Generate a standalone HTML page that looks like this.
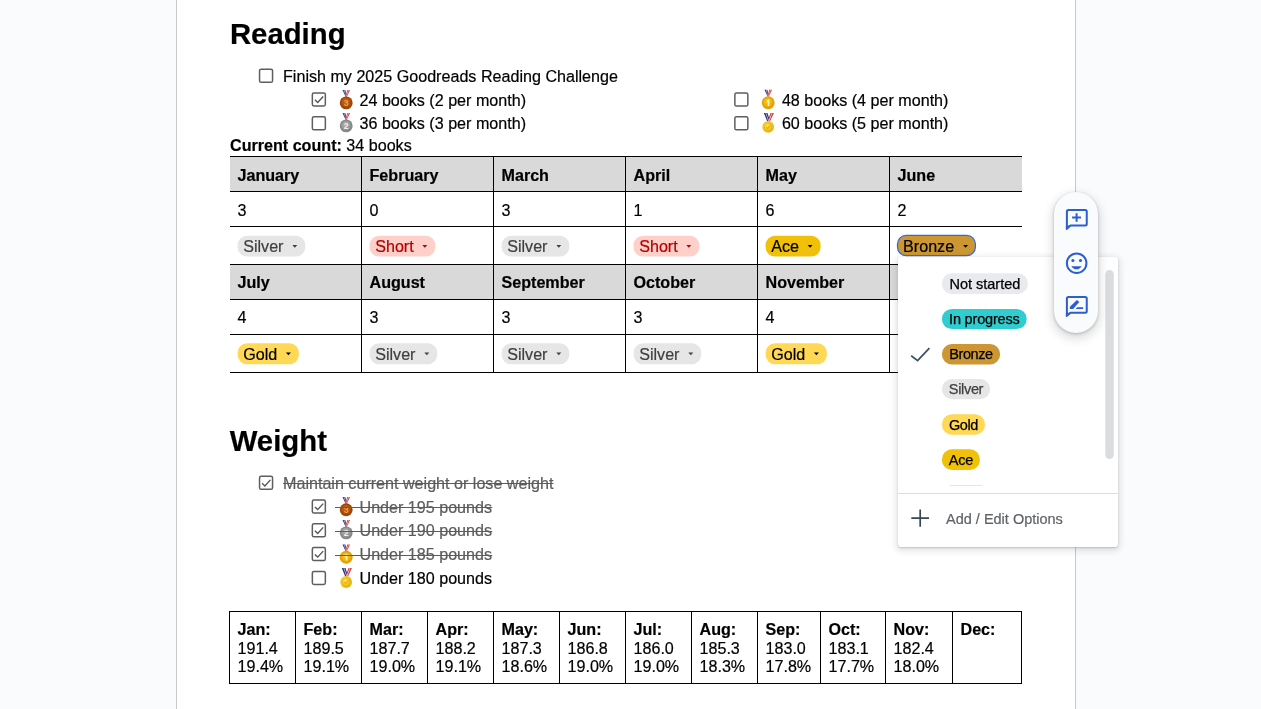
<!DOCTYPE html>
<html><head><meta charset="utf-8"><title>Goals</title>
<style>
html,body{margin:0;padding:0}
body{width:1261px;height:709px;overflow:hidden;background:#f9fbfd;font-family:"Liberation Sans",sans-serif;position:relative;color:#000}
#w{position:absolute;left:0;top:0;width:1261px;height:709px;will-change:transform}
#page{position:absolute;left:176px;top:-2px;width:898px;height:720px;background:#fff;border:1px solid #c8c8c8}
svg{position:absolute;left:0;top:0;overflow:visible}
.t{position:absolute;white-space:nowrap;-webkit-text-stroke:0.2px currentColor}
.b{font-weight:700}
.g{color:#5c5c5c}
#menu{position:absolute;left:898px;top:257px;width:220px;height:290px;background:#fff;border-radius:3px;box-shadow:0 2px 6px 2px rgba(60,64,67,.14),0 1px 2px rgba(60,64,67,.22);overflow:hidden}
#list{position:absolute;left:0;top:0;width:220px;height:229.3px;overflow:hidden}
.mc{position:absolute;height:20px;font-size:14.5px;line-height:20px;text-align:center;white-space:nowrap;-webkit-text-stroke:0.25px currentColor}
#pill{position:absolute;left:1054px;top:192px;width:44px;height:140.5px;border-radius:22px;background:#f9fbfd;box-shadow:0 4px 8px 3px rgba(60,64,67,.15),0 1px 3px rgba(60,64,67,.3)}
</style></head><body>
<div id="page"></div>
<div id="w">
<svg width="1261" height="709" viewBox="0 0 1261 709"><defs><radialGradient id="g1" cx=".45" cy=".4" r=".62"><stop offset="0" stop-color="#cc6c1e"/><stop offset="1" stop-color="#9c450a"/></radialGradient><radialGradient id="g2" cx=".45" cy=".4" r=".62"><stop offset="0" stop-color="#b9b9b9"/><stop offset="1" stop-color="#878787"/></radialGradient><radialGradient id="g3" cx=".45" cy=".4" r=".62"><stop offset="0" stop-color="#ffd030"/><stop offset="1" stop-color="#e3a000"/></radialGradient><radialGradient id="g4" cx=".42" cy=".4" r=".65"><stop offset="0" stop-color="#ffe14d"/><stop offset="1" stop-color="#e8b008"/></radialGradient><radialGradient id="g5" cx=".45" cy=".4" r=".62"><stop offset="0" stop-color="#cc6c1e"/><stop offset="1" stop-color="#9c450a"/></radialGradient><radialGradient id="g6" cx=".45" cy=".4" r=".62"><stop offset="0" stop-color="#b9b9b9"/><stop offset="1" stop-color="#878787"/></radialGradient><radialGradient id="g7" cx=".45" cy=".4" r=".62"><stop offset="0" stop-color="#ffd030"/><stop offset="1" stop-color="#e3a000"/></radialGradient><radialGradient id="g8" cx=".42" cy=".4" r=".65"><stop offset="0" stop-color="#ffe14d"/><stop offset="1" stop-color="#e8b008"/></radialGradient></defs>
<g transform="translate(258.8 68.5)"><rect x="0.75" y="0.75" width="13" height="13" rx="1.6" fill="#fff" stroke="#5e5e5e" stroke-width="1.5"/></g>
<g transform="translate(311.6 92.2)"><rect x="0.75" y="0.75" width="13" height="13" rx="1.6" fill="#fff" stroke="#5e5e5e" stroke-width="1.5"/><path d="M3.3 7.6 L6.1 10.3 L11.6 4.3" fill="none" stroke="#555" stroke-width="1.4"/></g>
<g transform="translate(339.3 90)"><path d="M3.2 0 L6.0 0 L7.7 6.4 L6.3 6.8 Z" fill="#27348b"/><path d="M10.7 0 L8.0 0 L6.2 6.2 L7.6 6.8 Z" fill="#d6373d"/><path d="M4.4 0 L5.0 0 L7.0 6.4 L6.7 6.5 Z" fill="#fff" opacity=".8"/><path d="M9.5 0 L8.9 0 L7.0 6.0 L7.4 6.3 Z" fill="#fff" opacity=".8"/><circle cx="6.9" cy="12.9" r="6.45" fill="#9c450a"/><circle cx="6.9" cy="12.9" r="5.1" fill="url(#g1)"/><text x="6.9" y="16.05" font-family="Liberation Sans" font-weight="700" font-size="9" text-anchor="middle" fill="#f59a3a">3</text></g>
<g transform="translate(311.6 116.1)"><rect x="0.75" y="0.75" width="13" height="13" rx="1.6" fill="#fff" stroke="#5e5e5e" stroke-width="1.5"/></g>
<g transform="translate(339.3 113)"><path d="M3.2 0 L6.0 0 L7.7 6.4 L6.3 6.8 Z" fill="#27348b"/><path d="M10.7 0 L8.0 0 L6.2 6.2 L7.6 6.8 Z" fill="#d6373d"/><path d="M4.4 0 L5.0 0 L7.0 6.4 L6.7 6.5 Z" fill="#fff" opacity=".8"/><path d="M9.5 0 L8.9 0 L7.0 6.0 L7.4 6.3 Z" fill="#fff" opacity=".8"/><circle cx="6.9" cy="12.9" r="6.45" fill="#878787"/><circle cx="6.9" cy="12.9" r="5.1" fill="url(#g2)"/><text x="6.9" y="16.05" font-family="Liberation Sans" font-weight="700" font-size="9" text-anchor="middle" fill="#ececec">2</text></g>
<g transform="translate(734.1 92.3)"><rect x="0.75" y="0.75" width="13" height="13" rx="1.6" fill="#fff" stroke="#5e5e5e" stroke-width="1.5"/></g>
<g transform="translate(761.3 89.8)"><path d="M3.2 0 L6.0 0 L7.7 6.4 L6.3 6.8 Z" fill="#27348b"/><path d="M10.7 0 L8.0 0 L6.2 6.2 L7.6 6.8 Z" fill="#d6373d"/><path d="M4.4 0 L5.0 0 L7.0 6.4 L6.7 6.5 Z" fill="#fff" opacity=".8"/><path d="M9.5 0 L8.9 0 L7.0 6.0 L7.4 6.3 Z" fill="#fff" opacity=".8"/><circle cx="6.9" cy="12.9" r="6.45" fill="#e3a000"/><circle cx="6.9" cy="12.9" r="5.1" fill="url(#g3)"/><path d="M5.5 10.9 L7.1 9.7 H8.1 V16.1 H6.5 V11.6 L5.5 12.3 Z" fill="#fff2a8"/></g>
<g transform="translate(734.1 116.1)"><rect x="0.75" y="0.75" width="13" height="13" rx="1.6" fill="#fff" stroke="#5e5e5e" stroke-width="1.5"/></g>
<g transform="translate(761.3 113)"><path d="M2.5 0 L6.2 0 L8.7 7.8 L6.0 8.6 Z" fill="#27348b"/><path d="M12.6 0 L9.2 0 L6.6 7.2 L8.6 8.6 Z" fill="#d6373d"/><path d="M4.2 0 L4.9 0 L7.6 8 L7.0 8.2 Z" fill="#fff" opacity=".8"/><path d="M11 0 L10.3 0 L7.6 7.4 L8.2 7.8 Z" fill="#fff" opacity=".8"/><circle cx="6.9" cy="13.9" r="5.9" fill="url(#g4)"/><circle cx="6.9" cy="13.9" r="3.9" fill="none" stroke="#d09a00" stroke-width=".7" opacity=".5"/><path d="M4.9 14 L6.4 15.4 L9.2 12.3" stroke="#d09a00" stroke-width="1.1" fill="none" opacity=".6"/></g>
<rect x="230" y="157" width="792" height="34" fill="#d9d9d9"/>
<rect x="230" y="265" width="792" height="34" fill="#d9d9d9"/>
<rect x="230" y="156" width="792" height="1" fill="#000"/>
<rect x="230" y="191" width="792" height="1" fill="#000"/>
<rect x="230" y="226" width="792" height="1" fill="#000"/>
<rect x="230" y="264" width="792" height="1" fill="#000"/>
<rect x="230" y="299" width="792" height="1" fill="#000"/>
<rect x="230" y="334" width="792" height="1" fill="#000"/>
<rect x="230" y="372" width="792" height="1" fill="#000"/>
<rect x="361" y="156" width="1" height="217" fill="#000"/>
<rect x="493" y="156" width="1" height="217" fill="#000"/>
<rect x="625" y="156" width="1" height="217" fill="#000"/>
<rect x="757" y="156" width="1" height="217" fill="#000"/>
<rect x="889" y="156" width="1" height="217" fill="#000"/>
<rect x="237.6" y="235.7" width="67.7" height="20.9" rx="9.4" fill="#e6e6e6"/>
<path d="M292.30 244.89999999999998 h5 l-2.5 2.8 Z" fill="#404040"/>
<rect x="369.6" y="235.7" width="65.7" height="20.9" rx="9.4" fill="#ffcfc9"/>
<path d="M422.30 244.89999999999998 h5 l-2.5 2.8 Z" fill="#b10202"/>
<rect x="501.6" y="235.7" width="67.7" height="20.9" rx="9.4" fill="#e6e6e6"/>
<path d="M556.30 244.89999999999998 h5 l-2.5 2.8 Z" fill="#404040"/>
<rect x="633.6" y="235.7" width="65.7" height="20.9" rx="9.4" fill="#ffcfc9"/>
<path d="M686.30 244.89999999999998 h5 l-2.5 2.8 Z" fill="#b10202"/>
<rect x="765.6" y="235.7" width="55" height="20.9" rx="9.4" fill="#f0c108"/>
<path d="M807.60 244.89999999999998 h5 l-2.5 2.8 Z" fill="#000"/>
<rect x="897.5" y="235.4" width="77.9" height="20.2" rx="8.6" fill="#cc9632" stroke="#2a6de2" stroke-width="1.25"/>
<path d="M963.10 244.9 h5 l-2.5 2.8 Z" fill="#000"/>
<rect x="237.6" y="343.3" width="61.3" height="20.9" rx="9.4" fill="#ffd955"/>
<path d="M285.90 352.5 h5 l-2.5 2.8 Z" fill="#000"/>
<rect x="369.6" y="343.3" width="67.7" height="20.9" rx="9.4" fill="#e6e6e6"/>
<path d="M424.30 352.5 h5 l-2.5 2.8 Z" fill="#404040"/>
<rect x="501.6" y="343.3" width="67.7" height="20.9" rx="9.4" fill="#e6e6e6"/>
<path d="M556.30 352.5 h5 l-2.5 2.8 Z" fill="#404040"/>
<rect x="633.6" y="343.3" width="67.7" height="20.9" rx="9.4" fill="#e6e6e6"/>
<path d="M688.30 352.5 h5 l-2.5 2.8 Z" fill="#404040"/>
<rect x="765.6" y="343.3" width="61.3" height="20.9" rx="9.4" fill="#ffd955"/>
<path d="M813.90 352.5 h5 l-2.5 2.8 Z" fill="#000"/>
<g transform="translate(258.8 475.6)"><rect x="0.75" y="0.75" width="13" height="13" rx="1.6" fill="#fff" stroke="#5e5e5e" stroke-width="1.5"/><path d="M3.3 7.6 L6.1 10.3 L11.6 4.3" fill="none" stroke="#555" stroke-width="1.4"/></g>
<g transform="translate(311.6 499.3)"><rect x="0.75" y="0.75" width="13" height="13" rx="1.6" fill="#fff" stroke="#5e5e5e" stroke-width="1.5"/><path d="M3.3 7.6 L6.1 10.3 L11.6 4.3" fill="none" stroke="#555" stroke-width="1.4"/></g>
<g transform="translate(339.3 496.9)"><path d="M3.2 0 L6.0 0 L7.7 6.4 L6.3 6.8 Z" fill="#27348b"/><path d="M10.7 0 L8.0 0 L6.2 6.2 L7.6 6.8 Z" fill="#d6373d"/><path d="M4.4 0 L5.0 0 L7.0 6.4 L6.7 6.5 Z" fill="#fff" opacity=".8"/><path d="M9.5 0 L8.9 0 L7.0 6.0 L7.4 6.3 Z" fill="#fff" opacity=".8"/><circle cx="6.9" cy="12.9" r="6.45" fill="#9c450a"/><circle cx="6.9" cy="12.9" r="5.1" fill="url(#g5)"/><text x="6.9" y="16.05" font-family="Liberation Sans" font-weight="700" font-size="9" text-anchor="middle" fill="#f59a3a">3</text></g>
<g transform="translate(311.6 523.1)"><rect x="0.75" y="0.75" width="13" height="13" rx="1.6" fill="#fff" stroke="#5e5e5e" stroke-width="1.5"/><path d="M3.3 7.6 L6.1 10.3 L11.6 4.3" fill="none" stroke="#555" stroke-width="1.4"/></g>
<g transform="translate(339.3 520.0)"><path d="M3.2 0 L6.0 0 L7.7 6.4 L6.3 6.8 Z" fill="#27348b"/><path d="M10.7 0 L8.0 0 L6.2 6.2 L7.6 6.8 Z" fill="#d6373d"/><path d="M4.4 0 L5.0 0 L7.0 6.4 L6.7 6.5 Z" fill="#fff" opacity=".8"/><path d="M9.5 0 L8.9 0 L7.0 6.0 L7.4 6.3 Z" fill="#fff" opacity=".8"/><circle cx="6.9" cy="12.9" r="6.45" fill="#878787"/><circle cx="6.9" cy="12.9" r="5.1" fill="url(#g6)"/><text x="6.9" y="16.05" font-family="Liberation Sans" font-weight="700" font-size="9" text-anchor="middle" fill="#ececec">2</text></g>
<g transform="translate(311.6 546.8)"><rect x="0.75" y="0.75" width="13" height="13" rx="1.6" fill="#fff" stroke="#5e5e5e" stroke-width="1.5"/><path d="M3.3 7.6 L6.1 10.3 L11.6 4.3" fill="none" stroke="#555" stroke-width="1.4"/></g>
<g transform="translate(339.3 544.4)"><path d="M3.2 0 L6.0 0 L7.7 6.4 L6.3 6.8 Z" fill="#27348b"/><path d="M10.7 0 L8.0 0 L6.2 6.2 L7.6 6.8 Z" fill="#d6373d"/><path d="M4.4 0 L5.0 0 L7.0 6.4 L6.7 6.5 Z" fill="#fff" opacity=".8"/><path d="M9.5 0 L8.9 0 L7.0 6.0 L7.4 6.3 Z" fill="#fff" opacity=".8"/><circle cx="6.9" cy="12.9" r="6.45" fill="#e3a000"/><circle cx="6.9" cy="12.9" r="5.1" fill="url(#g7)"/><path d="M5.5 10.9 L7.1 9.7 H8.1 V16.1 H6.5 V11.6 L5.5 12.3 Z" fill="#fff2a8"/></g>
<g transform="translate(311.6 570.7)"><rect x="0.75" y="0.75" width="13" height="13" rx="1.6" fill="#fff" stroke="#5e5e5e" stroke-width="1.5"/></g>
<g transform="translate(339.3 568.1)"><path d="M2.5 0 L6.2 0 L8.7 7.8 L6.0 8.6 Z" fill="#27348b"/><path d="M12.6 0 L9.2 0 L6.6 7.2 L8.6 8.6 Z" fill="#d6373d"/><path d="M4.2 0 L4.9 0 L7.6 8 L7.0 8.2 Z" fill="#fff" opacity=".8"/><path d="M11 0 L10.3 0 L7.6 7.4 L8.2 7.8 Z" fill="#fff" opacity=".8"/><circle cx="6.9" cy="13.9" r="5.9" fill="url(#g8)"/><circle cx="6.9" cy="13.9" r="3.9" fill="none" stroke="#d09a00" stroke-width=".7" opacity=".5"/><path d="M4.9 14 L6.4 15.4 L9.2 12.3" stroke="#d09a00" stroke-width="1.1" fill="none" opacity=".6"/></g>
<rect x="229" y="611" width="793" height="1" fill="#000"/>
<rect x="229" y="683" width="793" height="1" fill="#000"/>
<rect x="229" y="611" width="1" height="73" fill="#000"/>
<rect x="295" y="611" width="1" height="73" fill="#000"/>
<rect x="361" y="611" width="1" height="73" fill="#000"/>
<rect x="427" y="611" width="1" height="73" fill="#000"/>
<rect x="493" y="611" width="1" height="73" fill="#000"/>
<rect x="559" y="611" width="1" height="73" fill="#000"/>
<rect x="625" y="611" width="1" height="73" fill="#000"/>
<rect x="691" y="611" width="1" height="73" fill="#000"/>
<rect x="757" y="611" width="1" height="73" fill="#000"/>
<rect x="820" y="611" width="1" height="73" fill="#000"/>
<rect x="885" y="611" width="1" height="73" fill="#000"/>
<rect x="952" y="611" width="1" height="73" fill="#000"/>
<rect x="1021" y="611" width="1" height="73" fill="#000"/>
</svg>
<div class="t b" style="left:229.9px;top:16.14px;font-size:29.33px;line-height:36px;">Reading</div>
<div class="t b" style="left:229.7px;top:423.04px;font-size:29.33px;line-height:36px;">Weight</div>
<div class="t " style="left:283px;top:66.21px;font-size:16.13px;line-height:20px;">Finish my 2025 Goodreads Reading Challenge</div>
<div class="t " style="left:359.5px;top:90.11px;font-size:16.13px;line-height:20px;">24 books (2 per month)</div>
<div class="t " style="left:359.5px;top:113.11px;font-size:16.13px;line-height:20px;">36 books (3 per month)</div>
<div class="t " style="left:781.9px;top:90.11px;font-size:16.13px;line-height:20px;">48 books (4 per month)</div>
<div class="t " style="left:781.9px;top:113.11px;font-size:16.13px;line-height:20px;">60 books (5 per month)</div>
<div class="t " style="left:230px;top:134.81px;font-size:16.13px;line-height:20px;"><span class="b">Current count:</span> 34 books</div>
<div class="t b" style="left:237.5px;top:165.31px;font-size:16.13px;line-height:20px;">January</div>
<div class="t " style="left:237.5px;top:199.81px;font-size:16.13px;line-height:20px;">3</div>
<div class="t b" style="left:237.5px;top:271.61px;font-size:16.13px;line-height:20px;">July</div>
<div class="t " style="left:237.5px;top:307.11px;font-size:16.13px;line-height:20px;">4</div>
<div class="t b" style="left:369.5px;top:165.31px;font-size:16.13px;line-height:20px;">February</div>
<div class="t " style="left:369.5px;top:199.81px;font-size:16.13px;line-height:20px;">0</div>
<div class="t b" style="left:369.5px;top:271.61px;font-size:16.13px;line-height:20px;">August</div>
<div class="t " style="left:369.5px;top:307.11px;font-size:16.13px;line-height:20px;">3</div>
<div class="t b" style="left:501.5px;top:165.31px;font-size:16.13px;line-height:20px;">March</div>
<div class="t " style="left:501.5px;top:199.81px;font-size:16.13px;line-height:20px;">3</div>
<div class="t b" style="left:501.5px;top:271.61px;font-size:16.13px;line-height:20px;">September</div>
<div class="t " style="left:501.5px;top:307.11px;font-size:16.13px;line-height:20px;">3</div>
<div class="t b" style="left:633.5px;top:165.31px;font-size:16.13px;line-height:20px;">April</div>
<div class="t " style="left:633.5px;top:199.81px;font-size:16.13px;line-height:20px;">1</div>
<div class="t b" style="left:633.5px;top:271.61px;font-size:16.13px;line-height:20px;">October</div>
<div class="t " style="left:633.5px;top:307.11px;font-size:16.13px;line-height:20px;">3</div>
<div class="t b" style="left:765.5px;top:165.31px;font-size:16.13px;line-height:20px;">May</div>
<div class="t " style="left:765.5px;top:199.81px;font-size:16.13px;line-height:20px;">6</div>
<div class="t b" style="left:765.5px;top:271.61px;font-size:16.13px;line-height:20px;">November</div>
<div class="t " style="left:765.5px;top:307.11px;font-size:16.13px;line-height:20px;">4</div>
<div class="t b" style="left:897.5px;top:165.31px;font-size:16.13px;line-height:20px;">June</div>
<div class="t " style="left:897.5px;top:199.81px;font-size:16.13px;line-height:20px;">2</div>
<div class="t " style="left:243.2px;top:236.06px;font-size:16.13px;line-height:20px;color:#404040">Silver</div>
<div class="t " style="left:375.20000000000005px;top:236.06px;font-size:16.13px;line-height:20px;color:#b10202">Short</div>
<div class="t " style="left:507.20000000000005px;top:236.06px;font-size:16.13px;line-height:20px;color:#404040">Silver</div>
<div class="t " style="left:639.2px;top:236.06px;font-size:16.13px;line-height:20px;color:#b10202">Short</div>
<div class="t " style="left:771.2px;top:236.06px;font-size:16.13px;line-height:20px;color:#000">Ace</div>
<div class="t " style="left:903.1px;top:235.76px;font-size:16.13px;line-height:20px;color:#000">Bronze</div>
<div class="t " style="left:243.2px;top:343.66px;font-size:16.13px;line-height:20px;color:#000">Gold</div>
<div class="t " style="left:375.20000000000005px;top:343.66px;font-size:16.13px;line-height:20px;color:#404040">Silver</div>
<div class="t " style="left:507.20000000000005px;top:343.66px;font-size:16.13px;line-height:20px;color:#404040">Silver</div>
<div class="t " style="left:639.2px;top:343.66px;font-size:16.13px;line-height:20px;color:#404040">Silver</div>
<div class="t " style="left:771.2px;top:343.66px;font-size:16.13px;line-height:20px;color:#000">Gold</div>
<div class="t g" style="left:283px;top:473.11px;font-size:16.13px;line-height:20px;">Maintain current weight or lose weight</div>
<div class="t g" style="left:359.5px;top:497.01px;font-size:16.13px;line-height:20px;">Under 195 pounds</div>
<div class="t g" style="left:359.5px;top:520.21px;font-size:16.13px;line-height:20px;">Under 190 pounds</div>
<div class="t g" style="left:359.5px;top:544.01px;font-size:16.13px;line-height:20px;">Under 185 pounds</div>
<div class="t " style="left:359.5px;top:567.61px;font-size:16.13px;line-height:20px;">Under 180 pounds</div>
<div class="t b" style="left:237.5px;top:619.01px;font-size:16.13px;line-height:20px;">Jan:</div>
<div class="t " style="left:237.5px;top:637.51px;font-size:16.13px;line-height:20px;">191.4</div>
<div class="t " style="left:237.5px;top:656.01px;font-size:16.13px;line-height:20px;">19.4%</div>
<div class="t b" style="left:303.5px;top:619.01px;font-size:16.13px;line-height:20px;">Feb:</div>
<div class="t " style="left:303.5px;top:637.51px;font-size:16.13px;line-height:20px;">189.5</div>
<div class="t " style="left:303.5px;top:656.01px;font-size:16.13px;line-height:20px;">19.1%</div>
<div class="t b" style="left:369.5px;top:619.01px;font-size:16.13px;line-height:20px;">Mar:</div>
<div class="t " style="left:369.5px;top:637.51px;font-size:16.13px;line-height:20px;">187.7</div>
<div class="t " style="left:369.5px;top:656.01px;font-size:16.13px;line-height:20px;">19.0%</div>
<div class="t b" style="left:435.5px;top:619.01px;font-size:16.13px;line-height:20px;">Apr:</div>
<div class="t " style="left:435.5px;top:637.51px;font-size:16.13px;line-height:20px;">188.2</div>
<div class="t " style="left:435.5px;top:656.01px;font-size:16.13px;line-height:20px;">19.1%</div>
<div class="t b" style="left:501.5px;top:619.01px;font-size:16.13px;line-height:20px;">May:</div>
<div class="t " style="left:501.5px;top:637.51px;font-size:16.13px;line-height:20px;">187.3</div>
<div class="t " style="left:501.5px;top:656.01px;font-size:16.13px;line-height:20px;">18.6%</div>
<div class="t b" style="left:567.5px;top:619.01px;font-size:16.13px;line-height:20px;">Jun:</div>
<div class="t " style="left:567.5px;top:637.51px;font-size:16.13px;line-height:20px;">186.8</div>
<div class="t " style="left:567.5px;top:656.01px;font-size:16.13px;line-height:20px;">19.0%</div>
<div class="t b" style="left:633.5px;top:619.01px;font-size:16.13px;line-height:20px;">Jul:</div>
<div class="t " style="left:633.5px;top:637.51px;font-size:16.13px;line-height:20px;">186.0</div>
<div class="t " style="left:633.5px;top:656.01px;font-size:16.13px;line-height:20px;">19.0%</div>
<div class="t b" style="left:699.5px;top:619.01px;font-size:16.13px;line-height:20px;">Aug:</div>
<div class="t " style="left:699.5px;top:637.51px;font-size:16.13px;line-height:20px;">185.3</div>
<div class="t " style="left:699.5px;top:656.01px;font-size:16.13px;line-height:20px;">18.3%</div>
<div class="t b" style="left:765.5px;top:619.01px;font-size:16.13px;line-height:20px;">Sep:</div>
<div class="t " style="left:765.5px;top:637.51px;font-size:16.13px;line-height:20px;">183.0</div>
<div class="t " style="left:765.5px;top:656.01px;font-size:16.13px;line-height:20px;">17.8%</div>
<div class="t b" style="left:828.5px;top:619.01px;font-size:16.13px;line-height:20px;">Oct:</div>
<div class="t " style="left:828.5px;top:637.51px;font-size:16.13px;line-height:20px;">183.1</div>
<div class="t " style="left:828.5px;top:656.01px;font-size:16.13px;line-height:20px;">17.7%</div>
<div class="t b" style="left:893.5px;top:619.01px;font-size:16.13px;line-height:20px;">Nov:</div>
<div class="t " style="left:893.5px;top:637.51px;font-size:16.13px;line-height:20px;">182.4</div>
<div class="t " style="left:893.5px;top:656.01px;font-size:16.13px;line-height:20px;">18.0%</div>
<div class="t b" style="left:960.5px;top:619.01px;font-size:16.13px;line-height:20px;">Dec:</div>
<svg width="1261" height="709" viewBox="0 0 1261 709">
<rect x="283" y="483" width="270.5" height="1" fill="#5c5c5c"/>
<rect x="335" y="507" width="157.3" height="1" fill="#5c5c5c"/>
<rect x="335" y="531" width="157.3" height="1" fill="#5c5c5c"/>
<rect x="335" y="555" width="157.3" height="1" fill="#5c5c5c"/>
</svg>
<div id="menu"><div id="list"><svg width="220" height="290" viewBox="0 0 220 290">
<rect x="43.9" y="16.2" width="86" height="20.7" rx="10" fill="#e8eaed"/>
<rect x="43.9" y="51.9" width="84.8" height="20.2" rx="10" fill="#2fcdd0"/>
<rect x="43.9" y="87" width="58.2" height="20.4" rx="10" fill="#cc9632"/>
<rect x="43.9" y="122.0" width="48.2" height="20.2" rx="10" fill="#e6e6e6"/>
<rect x="43.9" y="157.25" width="43.1" height="20.5" rx="10" fill="#ffd955"/>
<rect x="43.9" y="192.2" width="38" height="20.8" rx="10" fill="#f0c108"/>
<rect x="43.9" y="228.3" width="48" height="20.5" rx="10" fill="#ffcfc9"/>
<path d="M13.2 98.8 L19.6 103.6 L31.4 91.2" fill="none" stroke="#3c4f5c" stroke-width="1.7"/>
<rect x="207.3" y="13" width="8.5" height="189" rx="4.25" fill="#dadce0"/>
</svg>
<div class="mc" style="left:43.9px;top:16.5px;width:86px;color:#000;letter-spacing:0px">Not started</div>
<div class="mc" style="left:43.9px;top:52.199999999999996px;width:84.8px;color:#000;letter-spacing:-0.19px">In progress</div>
<div class="mc" style="left:43.9px;top:87.3px;width:58.2px;color:#000;letter-spacing:-0.4px">Bronze</div>
<div class="mc" style="left:43.9px;top:122.3px;width:48.2px;color:#404040;letter-spacing:-0.33px">Silver</div>
<div class="mc" style="left:43.9px;top:157.55px;width:43.1px;color:#000;letter-spacing:-0.4px">Gold</div>
<div class="mc" style="left:43.9px;top:192.5px;width:38px;color:#000;letter-spacing:-0.27px">Ace</div>
<div class="mc" style="left:43.9px;top:228.60000000000002px;width:48px;color:#b10202;letter-spacing:0px">Short</div>
</div>
<div style="position:absolute;left:0;top:236px;width:220px;height:1px;background:#dadce0"></div>
<svg width="220" height="290" viewBox="0 0 220 290"><path d="M13.3 261.1 H31 M22.2 252.4 V269.8" fill="none" stroke="#37474f" stroke-width="1.7"/></svg>
<div class="t" style="left:48px;top:252px;font-size:14.5px;line-height:20px;color:#5f6368">Add / Edit Options</div>
</div>
<div id="pill"><svg width="44" height="140" viewBox="0 0 44 140">
<path d="M14.4 17.9 H31.25 Q32.75 17.9 32.75 19.4 V32.0 Q32.75 33.5 31.25 33.5 H16.5 L12.9 36.699999999999996 V19.4 Q12.9 17.9 14.4 17.9 Z" fill="none" stroke="#2b5fd0" stroke-width="2" stroke-linejoin="round"/><path d="M11.9 33.5 H17.2 L11.9 38.3 Z" fill="#2b5fd0"/>
<path d="M18.1 25.5 H27 M22.6 21.3 V29.7" stroke="#2b5fd0" stroke-width="2" fill="none"/>
<circle cx="22.65" cy="71.2" r="9.8" fill="none" stroke="#2b5fd0" stroke-width="2"/><circle cx="18.9" cy="68.5" r="1.55" fill="#2b5fd0"/><circle cx="26.5" cy="68.5" r="1.55" fill="#2b5fd0"/><path d="M17.3 74.2 H27.7 Q25.8 77.3 22.5 77.3 Q19.2 77.3 17.3 74.2 Z" fill="#2b5fd0"/>
<path d="M14.4 104.9 H31.25 Q32.75 104.9 32.75 106.4 V119.2 Q32.75 120.7 31.25 120.7 H16.5 L12.9 123.7 V106.4 Q12.9 104.9 14.4 104.9 Z" fill="none" stroke="#2b5fd0" stroke-width="2" stroke-linejoin="round"/><path d="M11.9 120.7 H17.2 L11.9 125.3 Z" fill="#2b5fd0"/>
<path d="M15.9 116.95 V114.7 L22.9 107.9 L25.3 110.1 L19.1 116.95 Z" fill="#2b5fd0"/><path d="M21.6 116.95 L23.4 115.15 H29.1 V116.95 Z" fill="#2b5fd0"/>
</svg></div>
</div></body></html>
